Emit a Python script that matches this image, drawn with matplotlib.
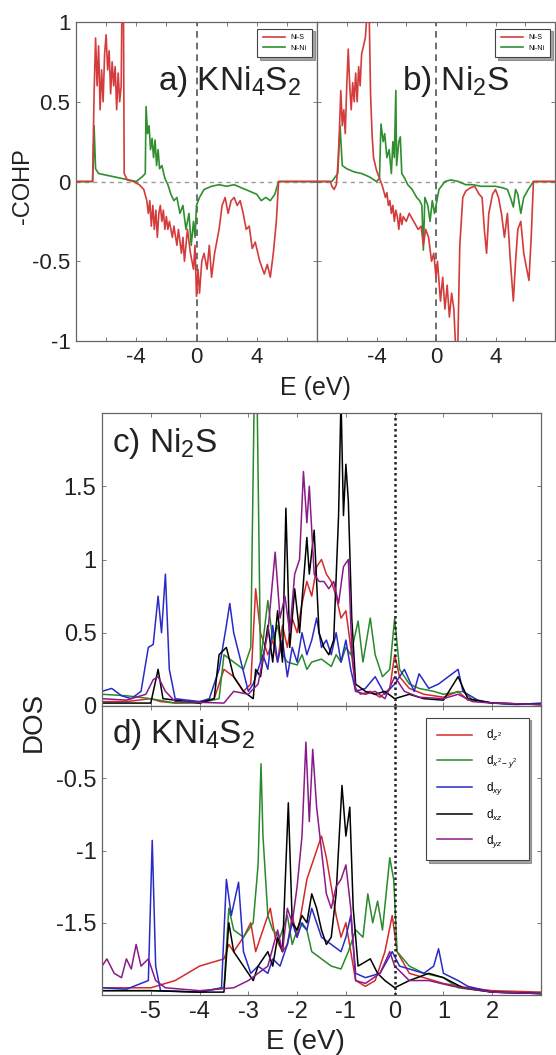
import matplotlib
matplotlib.use('Agg')
import matplotlib.pyplot as plt

plt.rcParams['font.family'] = ['Liberation Sans', 'DejaVu Sans']
plt.rcParams['mathtext.fontset'] = 'custom'
plt.rcParams['mathtext.rm'] = 'Liberation Sans'
plt.rcParams['mathtext.it'] = 'Liberation Sans:italic'

# ---- COHP, panel a) KNi4S2 ----
a_nis_E = [-8.0, -6.9, -6.8, -6.7, -6.6, -6.5, -6.4, -6.3, -6.2, -6.1, -6.0, -5.9, -5.8, -5.7,
           -5.6, -5.5, -5.4, -5.3, -5.2, -5.1, -5.0, -4.95, -4.85, -4.8, -4.6, -4.2, -3.8, -3.5,
           -3.3, -3.2, -3.1, -3.0, -2.9, -2.8, -2.7, -2.6, -2.5, -2.4, -2.3, -2.2, -2.1, -2.0,
           -1.9, -1.8, -1.6, -1.5, -1.3, -1.2, -1.0, -0.9, -0.8, -0.6, -0.4, -0.2, -0.1, 0.0,
           0.1, 0.2, 0.35, 0.5, 0.7, 0.85, 1.0, 1.2, 1.5, 1.7, 1.9, 2.1, 2.3, 2.5, 2.7, 2.9,
           3.1, 3.3, 3.5, 3.7, 3.9, 4.2, 4.5, 4.7, 4.9, 5.1, 5.3, 5.45, 8.0]
a_nis = [0, 0, 0.55, 0.9, 0.6, 0.85, 0.45, 0.7, 0.5, 0.8, 0.92, 0.7, 0.82, 0.55,
         0.75, 0.6, 0.72, 0.45, 0.68, 0.5, 0.6, 1.1, 1.1, 0.05, 0.01, 0.0, -0.02, -0.05,
         -0.12, -0.2, -0.12, -0.28, -0.15, -0.3, -0.18, -0.35, -0.2, -0.15, -0.25, -0.18, -0.3, -0.22,
         -0.3, -0.25, -0.35, -0.28, -0.4, -0.3, -0.45, -0.35, -0.5, -0.3, -0.45, -0.55, -0.4, -0.72,
         -0.55, -0.7, -0.5, -0.45, -0.55, -0.4, -0.6, -0.45, -0.3, -0.15, -0.1, -0.2, -0.12, -0.1, -0.15, -0.12,
         -0.2, -0.3, -0.28, -0.42, -0.38, -0.5, -0.58, -0.52, -0.6, -0.45, -0.25, 0.0, 0]
a_nini_E = [-8.0, -6.9, -6.85, -6.8, -6.7, -6.5, -6.0, -5.5, -5.0, -4.5, -4.0, -3.6, -3.4, -3.35,
            -3.25, -3.15, -3.05, -2.95, -2.85, -2.75, -2.65, -2.55, -2.45, -2.3, -2.1, -1.9, -1.7,
            -1.5, -1.3, -1.1, -0.9, -0.7, -0.5, -0.35, -0.2, -0.1, 0.0, 0.2, 0.5, 1.0, 1.5, 2.0,
            2.5, 3.0, 3.5, 4.0, 4.3, 4.6, 4.9, 5.2, 5.45, 8.0]
a_nini = [0, 0, 0.12, 0.35, 0.08, 0.05, 0.04, 0.03, 0.02, 0.01, 0.0, 0.03, 0.05, 0.47,
          0.3, 0.35, 0.2, 0.27, 0.15, 0.26, 0.1, 0.2, 0.08, 0.1, 0.02, -0.02, -0.08,
          -0.12, -0.1, -0.2, -0.15, -0.3, -0.2, -0.4, -0.25, -0.35, -0.15, -0.1, -0.05, -0.03, -0.02, -0.03,
          -0.02, -0.04, -0.06, -0.08, -0.12, -0.1, -0.12, -0.08, 0, 0]

# ---- COHP, panel b) Ni2S ----
b_nis_E = [-8.0, -7.1, -7.0, -6.85, -6.7, -6.6, -6.5, -6.4, -6.3, -6.2, -6.1, -6.0, -5.9, -5.8,
           -5.7, -5.6, -5.5, -5.4, -5.3, -5.2, -5.1, -5.0, -4.9, -4.75, -4.6, -4.5, -4.4, -4.3,
           -4.2, -4.0, -3.8, -3.6, -3.4, -3.3, -3.2, -3.1, -3.0, -2.9, -2.8, -2.7, -2.6, -2.5,
           -2.4, -2.3, -2.2, -2.0, -1.8, -1.5, -1.2, -1.0, -0.85, -0.7, -0.5, -0.3, -0.15, 0.0,
           0.1, 0.3, 0.45, 0.6, 0.75, 0.9, 1.05, 1.2, 1.35, 1.45, 1.6, 1.8, 2.0, 2.3, 2.6, 2.9,
           3.1, 3.25, 3.4, 3.55, 3.8, 4.0, 4.2, 4.4, 4.6, 4.8, 5.0, 5.2, 5.35, 5.5, 5.7, 5.9,
           6.1, 6.25, 6.4, 6.55, 8.0]
b_nis = [0, 0, -0.03, -0.05, -0.02, 0.1, 0.3, 0.57, 0.35, 0.45, 0.3, 0.6, 0.83, 0.6,
         0.45, 0.62, 0.5, 0.68, 0.5, 0.72, 0.6, 0.8, 0.84, 0.9, 1.1, 1.1, 0.55, 0.3,
         0.15, 0.07, 0.02, -0.03, -0.1, -0.07, -0.15, -0.12, -0.2, -0.15, -0.25, -0.18, -0.22, -0.3,
         -0.2, -0.27, -0.22, -0.25, -0.2, -0.25, -0.3, -0.28, -0.4, -0.3, -0.35, -0.5, -0.45, -0.6,
         -0.5, -0.75, -0.6, -0.8, -0.65, -0.85, -0.7, -0.8, -1.1, -1.1, -0.4, -0.1, -0.06, -0.04, -0.03, -0.08,
         -0.1, -0.3, -0.45, -0.2, -0.08, -0.05, -0.1, -0.2, -0.35, -0.2, -0.5, -0.75, -0.5, -0.3, -0.25, -0.45,
         -0.55, -0.62, -0.35, 0, 0]
b_nini_E = [-8.0, -7.0, -6.6, -6.45, -6.3, -6.0, -5.5, -5.0, -4.5, -4.0, -3.8, -3.7, -3.55, -3.45,
            -3.3, -3.15, -3.0, -2.9, -2.8, -2.7, -2.65, -2.5, -2.4, -2.3, -2.1, -1.9, -1.6, -1.3,
            -1.1, -0.95, -0.85, -0.75, -0.55, -0.4, -0.25, -0.1, 0.0, 0.2, 0.6, 1.0, 1.5, 2.0,
            2.5, 3.0, 3.5, 4.0, 4.5, 4.8, 5.0, 5.2, 5.35, 5.5, 5.7, 5.9, 6.2, 6.55, 8.0]
b_nini = [0, 0, 0.05, 0.35, 0.1, 0.08, 0.06, 0.05, 0.03, 0.0, 0.02, 0.36, 0.25, 0.3,
          0.15, 0.2, 0.05, 0.25, 0.15, 0.57, 0.1, 0.25, 0.28, 0.05, 0.02, -0.02, -0.05, -0.1,
          -0.12, -0.15, -0.43, -0.1, -0.15, -0.25, -0.12, -0.2, -0.15, -0.05, 0.0, 0.01, 0.0, -0.02,
          -0.02, -0.03, -0.03, -0.03, -0.04, -0.05, -0.1, -0.16, -0.05, -0.08, -0.2, -0.1, -0.05, 0, 0]

# ---- DOS, panel c) Ni2S ----
c_z2_E = [-6.0, -5.5, -5.0, -4.8, -4.5, -4.0, -3.7, -3.5, -3.3, -3.1, -2.95, -2.85, -2.75, -2.6,
          -2.5, -2.4, -2.3, -2.2, -2.1, -2.0, -1.9, -1.8, -1.7, -1.6, -1.5, -1.4, -1.3, -1.2,
          -1.1, -1.0, -0.9, -0.8, -0.7, -0.5, -0.3, -0.1, 0.0, 0.1, 0.3, 0.6, 1.0, 1.3, 1.5, 2.0, 3.0]
c_z2 = [0.03, 0.03, 0.05, 0.03, 0.02, 0.03, 0.05, 0.25, 0.2, 0.1, 0.15, 0.8, 0.5, 0.35,
        0.45, 0.3, 0.55, 0.4, 0.6, 0.5, 0.7, 0.85, 0.75, 0.95, 1.0, 0.9, 0.85, 0.75,
        0.6, 0.65, 0.4, 0.12, 0.08, 0.1, 0.06, 0.12, 0.35, 0.2, 0.12, 0.08, 0.06, 0.1, 0.04, 0.02, 0.01]
c_x2y2_E = [-6.0, -5.5, -5.0, -4.5, -4.0, -3.6, -3.5, -3.3, -3.1, -2.95, -2.88, -2.82, -2.75, -2.6,
            -2.5, -2.4, -2.3, -2.2, -2.0, -1.9, -1.8, -1.7, -1.5, -1.3, -1.2, -1.1, -1.0, -0.9,
            -0.75, -0.65, -0.5, -0.4, -0.25, -0.1, 0.0, 0.1, 0.3, 0.5, 0.8, 1.0, 1.4, 1.6, 2.0, 3.0]
c_x2y2 = [0.08, 0.07, 0.05, 0.02, 0.02, 0.05, 0.35, 0.3, 0.25, 0.4, 2.1, 2.1, 0.3, 0.72,
          0.45, 0.55, 0.35, 0.3, 0.28, 0.35, 0.25, 0.3, 0.32, 0.27, 0.35, 0.3, 0.4, 0.35,
          0.58, 0.3, 0.6, 0.35, 0.2, 0.25, 0.6, 0.25, 0.15, 0.12, 0.1, 0.08, 0.1, 0.04, 0.02, 0.01]
c_xy_E = [-6.0, -5.8, -5.6, -5.4, -5.2, -5.05, -4.95, -4.85, -4.78, -4.7, -4.62, -4.5, -4.0, -3.8,
          -3.6, -3.45, -3.38, -3.3, -3.15, -3.0, -2.9, -2.7, -2.6, -2.5, -2.4, -2.3, -2.2, -2.1,
          -2.0, -1.9, -1.8, -1.7, -1.6, -1.5, -1.4, -1.3, -1.2, -1.1, -1.0, -0.9, -0.8, -0.6,
          -0.4, -0.2, 0.0, 0.2, 0.4, 0.5, 0.7, 0.9, 1.1, 1.3, 1.4, 1.7, 2.0, 2.5, 3.0]
c_xy = [0.1, 0.12, 0.07, 0.05, 0.1, 0.4, 0.42, 0.75, 0.5, 0.9, 0.25, 0.05, 0.03, 0.05,
        0.25, 0.55, 0.7, 0.5, 0.3, 0.1, 0.15, 0.35, 0.25, 0.55, 0.3, 0.45, 0.2, 0.4,
        0.3, 0.5, 0.35, 0.45, 0.6, 0.4, 0.45, 0.35, 0.5, 0.3, 0.45, 0.25, 0.1, 0.12,
        0.2, 0.08, 0.15, 0.25, 0.1, 0.22, 0.12, 0.15, 0.2, 0.25, 0.1, 0.04, 0.02, 0.01, 0.02]
c_xz_E = [-6.0, -5.0, -4.85, -4.75, -4.0, -3.7, -3.6, -3.45, -3.3, -3.1, -2.9, -2.85, -2.75, -2.6,
          -2.5, -2.4, -2.3, -2.23, -2.15, -2.05, -1.95, -1.8, -1.75, -1.65, -1.55, -1.45, -1.35,
          -1.25, -1.15, -1.1, -1.05, -1.0, -0.95, -0.88, -0.8, -0.6, -0.4, -0.2, 0.0, 0.3, 0.6,
          1.0, 1.3, 1.5, 2.0, 3.0]
c_xz = [0.02, 0.02, 0.25, 0.05, 0.02, 0.05, 0.35, 0.4, 0.2, 0.1, 0.05, 0.25, 0.2, 0.55,
        0.3, 0.65, 0.3, 1.35, 0.4, 0.8, 0.5, 1.15, 0.9, 1.2, 0.5, 0.4, 0.35,
        0.45, 1.3, 2.1, 1.3, 1.65, 1.4, 0.6, 0.15, 0.1, 0.08, 0.1, 0.05, 0.08, 0.05,
        0.04, 0.2, 0.05, 0.02, 0.01]
c_yz_E = [-6.0, -5.5, -5.1, -4.95, -4.85, -4.7, -4.5, -3.5, -3.3, -3.0, -2.8, -2.6, -2.45, -2.35,
          -2.25, -2.15, -2.05, -1.95, -1.87, -1.8, -1.75, -1.65, -1.55, -1.45, -1.35, -1.25,
          -1.15, -1.05, -0.95, -0.88, -0.8, -0.6, -0.4, -0.2, 0.0, 0.2, 0.5, 1.0, 1.3, 1.6, 2.0, 3.0]
c_yz = [0.05, 0.04, 0.08, 0.18, 0.2, 0.1, 0.03, 0.02, 0.1, 0.08, 0.15, 0.5, 1.05, 0.6,
        0.75, 0.5, 0.9, 1.0, 1.6, 1.25, 1.5, 0.9, 0.85, 0.85, 0.8, 0.85,
        0.7, 0.95, 1.0, 0.4, 0.1, 0.08, 0.1, 0.05, 0.2, 0.1, 0.06, 0.05, 0.08, 0.03, 0.02, 0.01]

# ---- DOS, panel d) KNi4S2 (plotted shifted by -2) ----
d_z2_E = [-6.0, -5.0, -4.5, -4.0, -3.5, -3.4, -3.3, -3.1, -2.95, -2.85, -2.7, -2.55, -2.45, -2.3,
          -2.2, -2.1, -2.0, -1.9, -1.8, -1.7, -1.6, -1.5, -1.4, -1.3, -1.2, -1.1, -1.0, -0.9,
          -0.8, -0.6, -0.4, -0.2, -0.05, 0.05, 0.3, 0.6, 1.0, 1.5, 2.0, 3.0]
d_z2 = [0.05, 0.05, 0.1, 0.2, 0.25, 0.35, 0.3, 0.4, 0.5, 0.3, 0.45, 0.6, 0.4, 0.3,
        0.35, 0.55, 0.4, 0.6, 0.8, 0.9, 1.0, 1.1, 0.95, 0.75, 0.55, 0.4, 0.5, 0.3,
        0.1, 0.06, 0.1, 0.3, 0.55, 0.3, 0.15, 0.12, 0.08, 0.05, 0.03, 0.02]
d_x2y2_E = [-6.0, -5.0, -4.0, -3.5, -3.4, -3.3, -3.1, -2.9, -2.8, -2.74, -2.7, -2.6, -2.5, -2.35,
            -2.2, -2.1, -1.95, -1.8, -1.7, -1.5, -1.3, -1.1, -0.95, -0.8, -0.65, -0.55, -0.45,
            -0.35, -0.25, -0.1, -0.02, 0.05, 0.3, 0.6, 1.0, 1.3, 2.0, 3.0]
d_x2y2 = [0.03, 0.03, 0.02, 0.05, 0.6, 0.45, 0.4, 0.5, 0.9, 1.6, 1.1, 0.55, 0.45, 0.4,
          0.55, 0.35, 0.5, 0.45, 0.3, 0.25, 0.2, 0.18, 0.3, 0.45, 0.4, 0.7, 0.5,
          0.65, 0.45, 0.95, 0.8, 0.3, 0.2, 0.15, 0.12, 0.05, 0.02, 0.01]
d_xy_E = [-6.0, -5.5, -5.05, -4.97, -4.9, -4.8, -4.0, -3.55, -3.45, -3.35, -3.2, -3.1, -2.95, -2.8,
          -2.6, -2.5, -2.35, -2.2, -2.1, -2.0, -1.9, -1.8, -1.7, -1.6, -1.5, -1.3, -1.1, -1.0,
          -0.9, -0.8, -0.6, -0.3, -0.05, 0.1, 0.3, 0.6, 0.8, 0.9, 1.0, 1.3, 1.5, 2.0, 3.0]
d_xy = [0.05, 0.04, 0.1, 1.07, 0.2, 0.03, 0.02, 0.05, 0.8, 0.55, 0.78, 0.3, 0.15, 0.2,
        0.15, 0.25, 0.2, 0.35, 0.5, 0.4, 0.5, 0.45, 0.6, 0.5, 0.4, 0.35, 0.3, 0.4,
        0.55, 0.15, 0.12, 0.15, 0.3, 0.2, 0.18, 0.15, 0.2, 0.32, 0.15, 0.1, 0.06, 0.02, 0.01]
d_xz_E = [-6.0, -5.0, -4.0, -3.5, -3.4, -3.3, -3.1, -2.9, -2.8, -2.6, -2.5, -2.4, -2.3, -2.18,
          -2.1, -2.0, -1.9, -1.8, -1.7, -1.6, -1.5, -1.4, -1.3, -1.2, -1.08, -1.0, -0.92, -0.85,
          -0.75, -0.5, -0.35, -0.2, 0.0, 0.3, 0.7, 1.0, 1.4, 2.0, 3.0]
d_xz = [0.03, 0.03, 0.02, 0.02, 0.5, 0.3, 0.2, 0.1, 0.2, 0.3, 0.2, 0.4, 0.3, 1.33,
        0.5, 0.45, 0.55, 0.5, 0.7, 0.6, 0.45, 0.35, 0.4, 0.7, 1.45, 1.1, 1.3, 0.6,
        0.2, 0.25, 0.15, 0.1, 0.05, 0.1, 0.15, 0.12, 0.05, 0.02, 0.01]
d_yz_E = [-6.0, -5.9, -5.75, -5.6, -5.5, -5.4, -5.3, -5.2, -5.05, -4.9, -4.7, -4.0, -3.3, -3.0,
          -2.8, -2.6, -2.4, -2.3, -2.2, -2.1, -2.0, -1.9, -1.82, -1.75, -1.68, -1.6, -1.5, -1.4,
          -1.3, -1.2, -1.1, -1.0, -0.9, -0.8, -0.6, -0.3, -0.1, 0.0, 0.3, 0.7, 1.2, 2.0, 3.0]
d_yz = [0.2, 0.25, 0.15, 0.12, 0.25, 0.18, 0.35, 0.2, 0.25, 0.1, 0.05, 0.03, 0.05, 0.1,
        0.15, 0.2, 0.45, 0.3, 0.6, 0.5, 0.75, 1.1, 1.75, 1.2, 1.7, 1.3, 1.0, 0.7,
        0.6, 0.75, 0.8, 0.9, 0.6, 0.1, 0.08, 0.15, 0.3, 0.2, 0.1, 0.1, 0.06, 0.02, 0.01]

cohp_labels = ['Ni-S', 'Ni-Ni']
orb_labels = ['d$_{z^2}$', 'd$_{x^2-y^2}$', 'd$_{xy}$', 'd$_{xz}$', 'd$_{yz}$']
orb_colors = ['#d42a2a', '#2a8a2a', '#2a2ac8', 'black', '#8a1a8a']
d_shift = 2.0

W, H = 556, 1055
fig = plt.figure(figsize=(W / 100, H / 100), dpi=100)


def box(l, t, r, b):
    return [l / W, 1 - b / H, (r - l) / W, (b - t) / H]


ax_a = fig.add_axes(box(76, 22, 317, 341))
ax_b = fig.add_axes(box(317, 22, 555, 341))
ax_c = fig.add_axes(box(102, 413, 541, 706))
ax_d = fig.add_axes(box(102, 706, 541, 995))

spine_col = '#666666'
txt_col = '#222222'

for ax, ns_E, ns, nn_E, nn, title, tx in [
        (ax_a, a_nis_E, a_nis, a_nini_E, a_nini, 'a) KNi$_4$S$_2$', 0.34),
        (ax_b, b_nis_E, b_nis, b_nini_E, b_nini, 'b) Ni$_2$S', 0.357)]:
    ax.axhline(0, color='#9a9a9a', lw=1.0, ls=(0, (3, 3)), zorder=1)
    ax.axvline(0, color='#555555', lw=1.2, ls=(0, (4, 3)), zorder=1)
    ax.plot(ns_E, ns, color='#d43c3c', lw=1.2, label=cohp_labels[0], zorder=3)
    ax.plot(nn_E, nn, color='#2f8f2f', lw=1.2, label=cohp_labels[1], zorder=2)
    ax.set_xlim(-8, 8)
    ax.set_ylim(-1, 1)
    ax.set_xticks([-6, -4, -2, 0, 2, 4, 6])
    ax.set_xticklabels(['', '-4', '', '0', '', '4', ''])
    ax.set_yticks([-1, -0.5, 0, 0.5, 1])
    ax.text(tx, 0.815, title, transform=ax.transAxes, ha='left', va='center',
            fontsize=24, color=txt_col, zorder=5)
    leg = ax.legend(loc='upper right', fontsize=5, handlelength=3.2, borderpad=0.8,
                    labelspacing=0.5, fancybox=False, shadow=True, frameon=True,
                    bbox_to_anchor=(0.995, 0.99))
    leg.get_frame().set_edgecolor('#444444')
    leg.get_frame().set_linewidth(0.8)

ax_a.set_yticklabels(['-1', '-0.5', '0', '0.5', '1'])
ax_b.set_yticklabels([])
fig.text(23 / W, 1 - 186 / H, '-COHP', rotation=90, ha='center', va='center',
         fontsize=17, color=txt_col)
fig.text(315 / W, 1 - 388 / H, 'E (eV)', ha='center', va='center', fontsize=18, color=txt_col)

orb_c = [(c_z2_E, c_z2), (c_x2y2_E, c_x2y2), (c_xy_E, c_xy), (c_xz_E, c_xz), (c_yz_E, c_yz)]
orb_d = [(d_z2_E, d_z2), (d_x2y2_E, d_x2y2), (d_xy_E, d_xy), (d_xz_E, d_xz), (d_yz_E, d_yz)]

for (E, v), col, lab in zip(orb_c, orb_colors, orb_labels):
    ax_c.plot(E, v, color=col, lw=1.1, label=lab)
for (E, v), col, lab in zip(orb_d, orb_colors, orb_labels):
    ax_d.plot(E, [y - d_shift for y in v], color=col, lw=1.1, label=lab)

for ax in (ax_c, ax_d):
    ax.axvline(0, color='#222222', lw=1.8, ls=(0, (1, 1.2)), zorder=4)
    ax.set_xlim(-6, 3)
    ax.set_xticks([-5, -4, -3, -2, -1, 0, 1, 2])

ax_c.set_ylim(0, 2)
ax_c.set_yticks([0, 0.5, 1, 1.5])
ax_c.set_yticklabels(['0', '0.5', '1', '1.5'])
ax_c.set_xticklabels([])
ax_c.text(0.023, 0.895, 'c) Ni$_2$S', transform=ax_c.transAxes, ha='left', va='center',
          fontsize=24, color=txt_col)

ax_d.set_ylim(-2, 0)
ax_d.set_yticks([-1.5, -1, -0.5])
ax_d.set_yticklabels(['-1.5', '-1', '-0.5'])
ax_d.set_xticklabels(['-5', '-4', '-3', '-2', '-1', '0', '1', '2'])
ax_d.text(0.023, 0.9, 'd) KNi$_4$S$_2$', transform=ax_d.transAxes, ha='left', va='center',
          fontsize=24, color=txt_col)
leg = ax_d.legend(loc='upper right', fontsize=8.5, handlelength=3.0, borderpad=0.9,
                  labelspacing=0.85, handletextpad=1.2, fancybox=False, shadow=True,
                  bbox_to_anchor=(0.985, 0.98))
leg.get_frame().set_edgecolor('#444444')
leg.get_frame().set_linewidth(0.8)

fig.text(34 / W, 1 - 722 / H, 'DOS', rotation=90, ha='center', va='center',
         fontsize=20, color=txt_col)
fig.text(305 / W, 1 - 1042 / H, 'E (eV)', ha='center', va='center', fontsize=20, color=txt_col)

for ax in (ax_a, ax_b, ax_c, ax_d):
    ax.tick_params(direction='in', top=True, right=True, length=3, width=0.6,
                   colors=spine_col, labelcolor=txt_col, labelsize=16, pad=4)
    for s in ax.spines.values():
        s.set_color(spine_col)
        s.set_linewidth(0.9)
for ax in (ax_c, ax_d):
    ax.tick_params(labelsize=17)

fig.savefig('out.png', dpi=100)
